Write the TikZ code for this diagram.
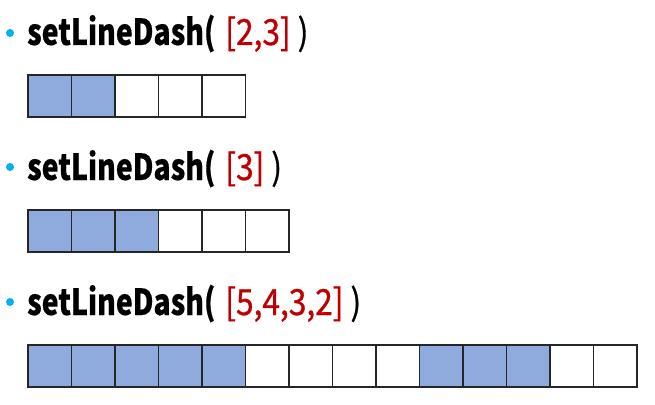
\documentclass[tikz,border=0pt]{standalone}
\usepackage{fontspec}
\newfontfamily\titlefont{Noto Sans CJK KR}[FakeStretch=0.79, FakeBold=0.4]
\newfontfamily\argfont{Noto Sans CJK KR}[FakeStretch=0.88, FakeBold=0.8]
\definecolor{dashblue}{HTML}{8FAADC}
\definecolor{dashred}{HTML}{C00000}
\definecolor{bulletblue}{HTML}{00B0F0}
\newcommand\dashcall[1]{{\bfseries setLineDash(}\hspace{10pt}{\argfont\color{dashred}[#1]}\hspace{7pt}{\argfont )}}
\begin{document}
\begin{tikzpicture}[x=1pt,y=-1pt,
		cell/.style={draw=black!85, line width=1.5pt, minimum width=43.5pt, minimum height=42pt, inner sep=0pt, anchor=north west},
		title/.style={anchor=base west, inner sep=0pt, font=\titlefont\fontsize{36}{40}\selectfont}]
	\useasboundingbox (0,0) rectangle (655,404);
	% [2,3]
	\fill[bulletblue] (10,33) circle (4);
	\node[title] (t1) at (27,45) {\dashcall{2,3}};
	\foreach \i/\c in {0/dashblue,1/dashblue,2/white,3/white,4/white}
		\node[cell, fill=\c] (a\i) at (27+\i*43.5,74) {};
	% [3]
	\fill[bulletblue] (10,167) circle (4);
	\node[title] (t2) at (27,180) {\dashcall{3}};
	\foreach \i/\c in {0/dashblue,1/dashblue,2/dashblue,3/white,4/white,5/white}
		\node[cell, fill=\c] (b\i) at (27+\i*43.5,209) {};
	% [5,4,3,2]
	\fill[bulletblue] (10,302) circle (4);
	\node[title] (t3) at (27,315) {\dashcall{5,4,3,2}};
	\foreach \i/\c in {0/dashblue,1/dashblue,2/dashblue,3/dashblue,4/dashblue,5/white,6/white,7/white,8/white,9/dashblue,10/dashblue,11/dashblue,12/white,13/white}
		\node[cell, fill=\c] (c\i) at (27+\i*43.5,344) {};
\end{tikzpicture}
\end{document}
